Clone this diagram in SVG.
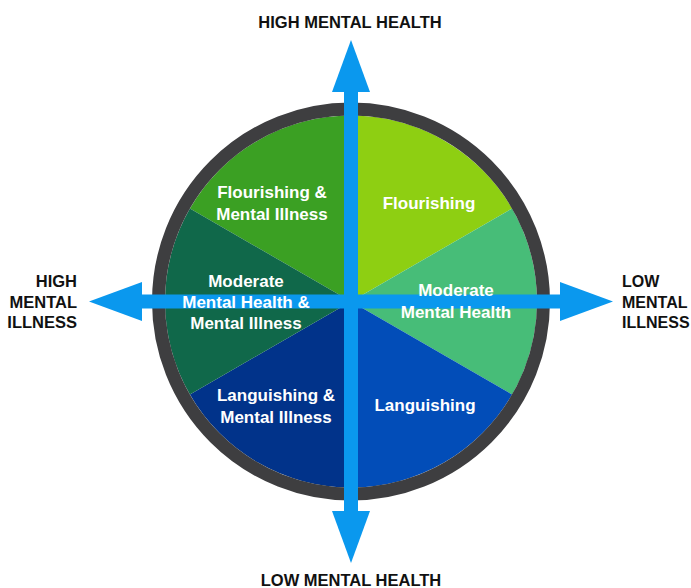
<svg xmlns="http://www.w3.org/2000/svg" width="691" height="588" viewBox="0 0 691 588">
  <style>
    .lbl { font-family: "Liberation Sans", Arial, sans-serif; font-weight: bold; font-size: 17px; fill: #ffffff; text-anchor: middle; }
    .axis { font-family: "Liberation Sans", Arial, sans-serif; font-weight: bold; font-size: 16.5px; fill: #111111; }
    .axis-r { font-family: "Liberation Sans", Arial, sans-serif; font-weight: bold; font-size: 16px; fill: #111111; }
    .arrow { fill: #0A98EE; }
  </style>
  <rect width="691" height="588" fill="#ffffff"/>

  <g id="node-flourishing-mental-illness"><path d="M351,301.5 L351,115.5 A186,186 0 0 0 189.92,208.5 Z" fill="#3BA023"/></g>
  <g id="node-flourishing"><path d="M351,301.5 L512.08,208.5 A186,186 0 0 0 351,115.5 Z" fill="#8ECF12"/></g>
  <g id="node-moderate-mental-health"><path d="M351,301.5 L512.08,394.5 A186,186 0 0 0 512.08,208.5 Z" fill="#47BD78"/></g>
  <g id="node-languishing"><path d="M351,301.5 L351,487.5 A186,186 0 0 0 512.08,394.5 Z" fill="#024DB8"/></g>
  <g id="node-languishing-mental-illness"><path d="M351,301.5 L189.92,394.5 A186,186 0 0 0 351,487.5 Z" fill="#01338A"/></g>
  <g id="node-moderate-mh-mental-illness"><path d="M351,301.5 L189.92,208.5 A186,186 0 0 0 189.92,394.5 Z" fill="#10684A"/></g>

  <circle id="ring" cx="351" cy="301.5" r="192.5" fill="none" stroke="#3E3E40" stroke-width="13"/>

  <g id="connectors">
    <rect class="arrow" x="344" y="91" width="14" height="421"/>
    <polygon class="arrow" points="351,40 370,92 332,92"/>
    <polygon class="arrow" points="351,563 370,511 332,511"/>
    <rect class="arrow" x="141" y="294.5" width="420" height="14"/>
    <polygon class="arrow" points="89,301.5 142,282 142,321"/>
    <polygon class="arrow" points="613,301.5 560,282 560,321"/>
  </g>

  <g id="node-flourishing-mental-illness-label">
    <text class="lbl" x="272" y="198">Flourishing &amp;</text>
    <text class="lbl" x="272" y="220">Mental Illness</text>
  </g>
  <g id="node-flourishing-label">
    <text class="lbl" x="429" y="209">Flourishing</text>
  </g>
  <g id="node-moderate-mental-health-label">
    <text class="lbl" x="456" y="296">Moderate</text>
    <text class="lbl" x="456" y="318">Mental Health</text>
  </g>
  <g id="node-languishing-label">
    <text class="lbl" x="425" y="411">Languishing</text>
  </g>
  <g id="node-languishing-mental-illness-label">
    <text class="lbl" x="276" y="401">Languishing &amp;</text>
    <text class="lbl" x="276" y="423">Mental Illness</text>
  </g>
  <g id="node-moderate-mh-mental-illness-label">
    <text class="lbl" x="246" y="287">Moderate</text>
    <text class="lbl" x="246" y="308">Mental Health &amp;</text>
    <text class="lbl" x="246" y="329">Mental Illness</text>
  </g>

  <g id="axis-labels">
    <text class="axis" x="350" y="28" text-anchor="middle">HIGH MENTAL HEALTH</text>
    <text class="axis" x="351" y="586" text-anchor="middle">LOW MENTAL HEALTH</text>
    <text class="axis" x="77" y="287" text-anchor="end">HIGH</text>
    <text class="axis" x="77" y="308" text-anchor="end">MENTAL</text>
    <text class="axis" x="77" y="328" text-anchor="end">ILLNESS</text>
    <text class="axis-r" x="622" y="287">LOW</text>
    <text class="axis-r" x="622" y="308">MENTAL</text>
    <text class="axis-r" x="622" y="328">ILLNESS</text>
  </g>
</svg>
